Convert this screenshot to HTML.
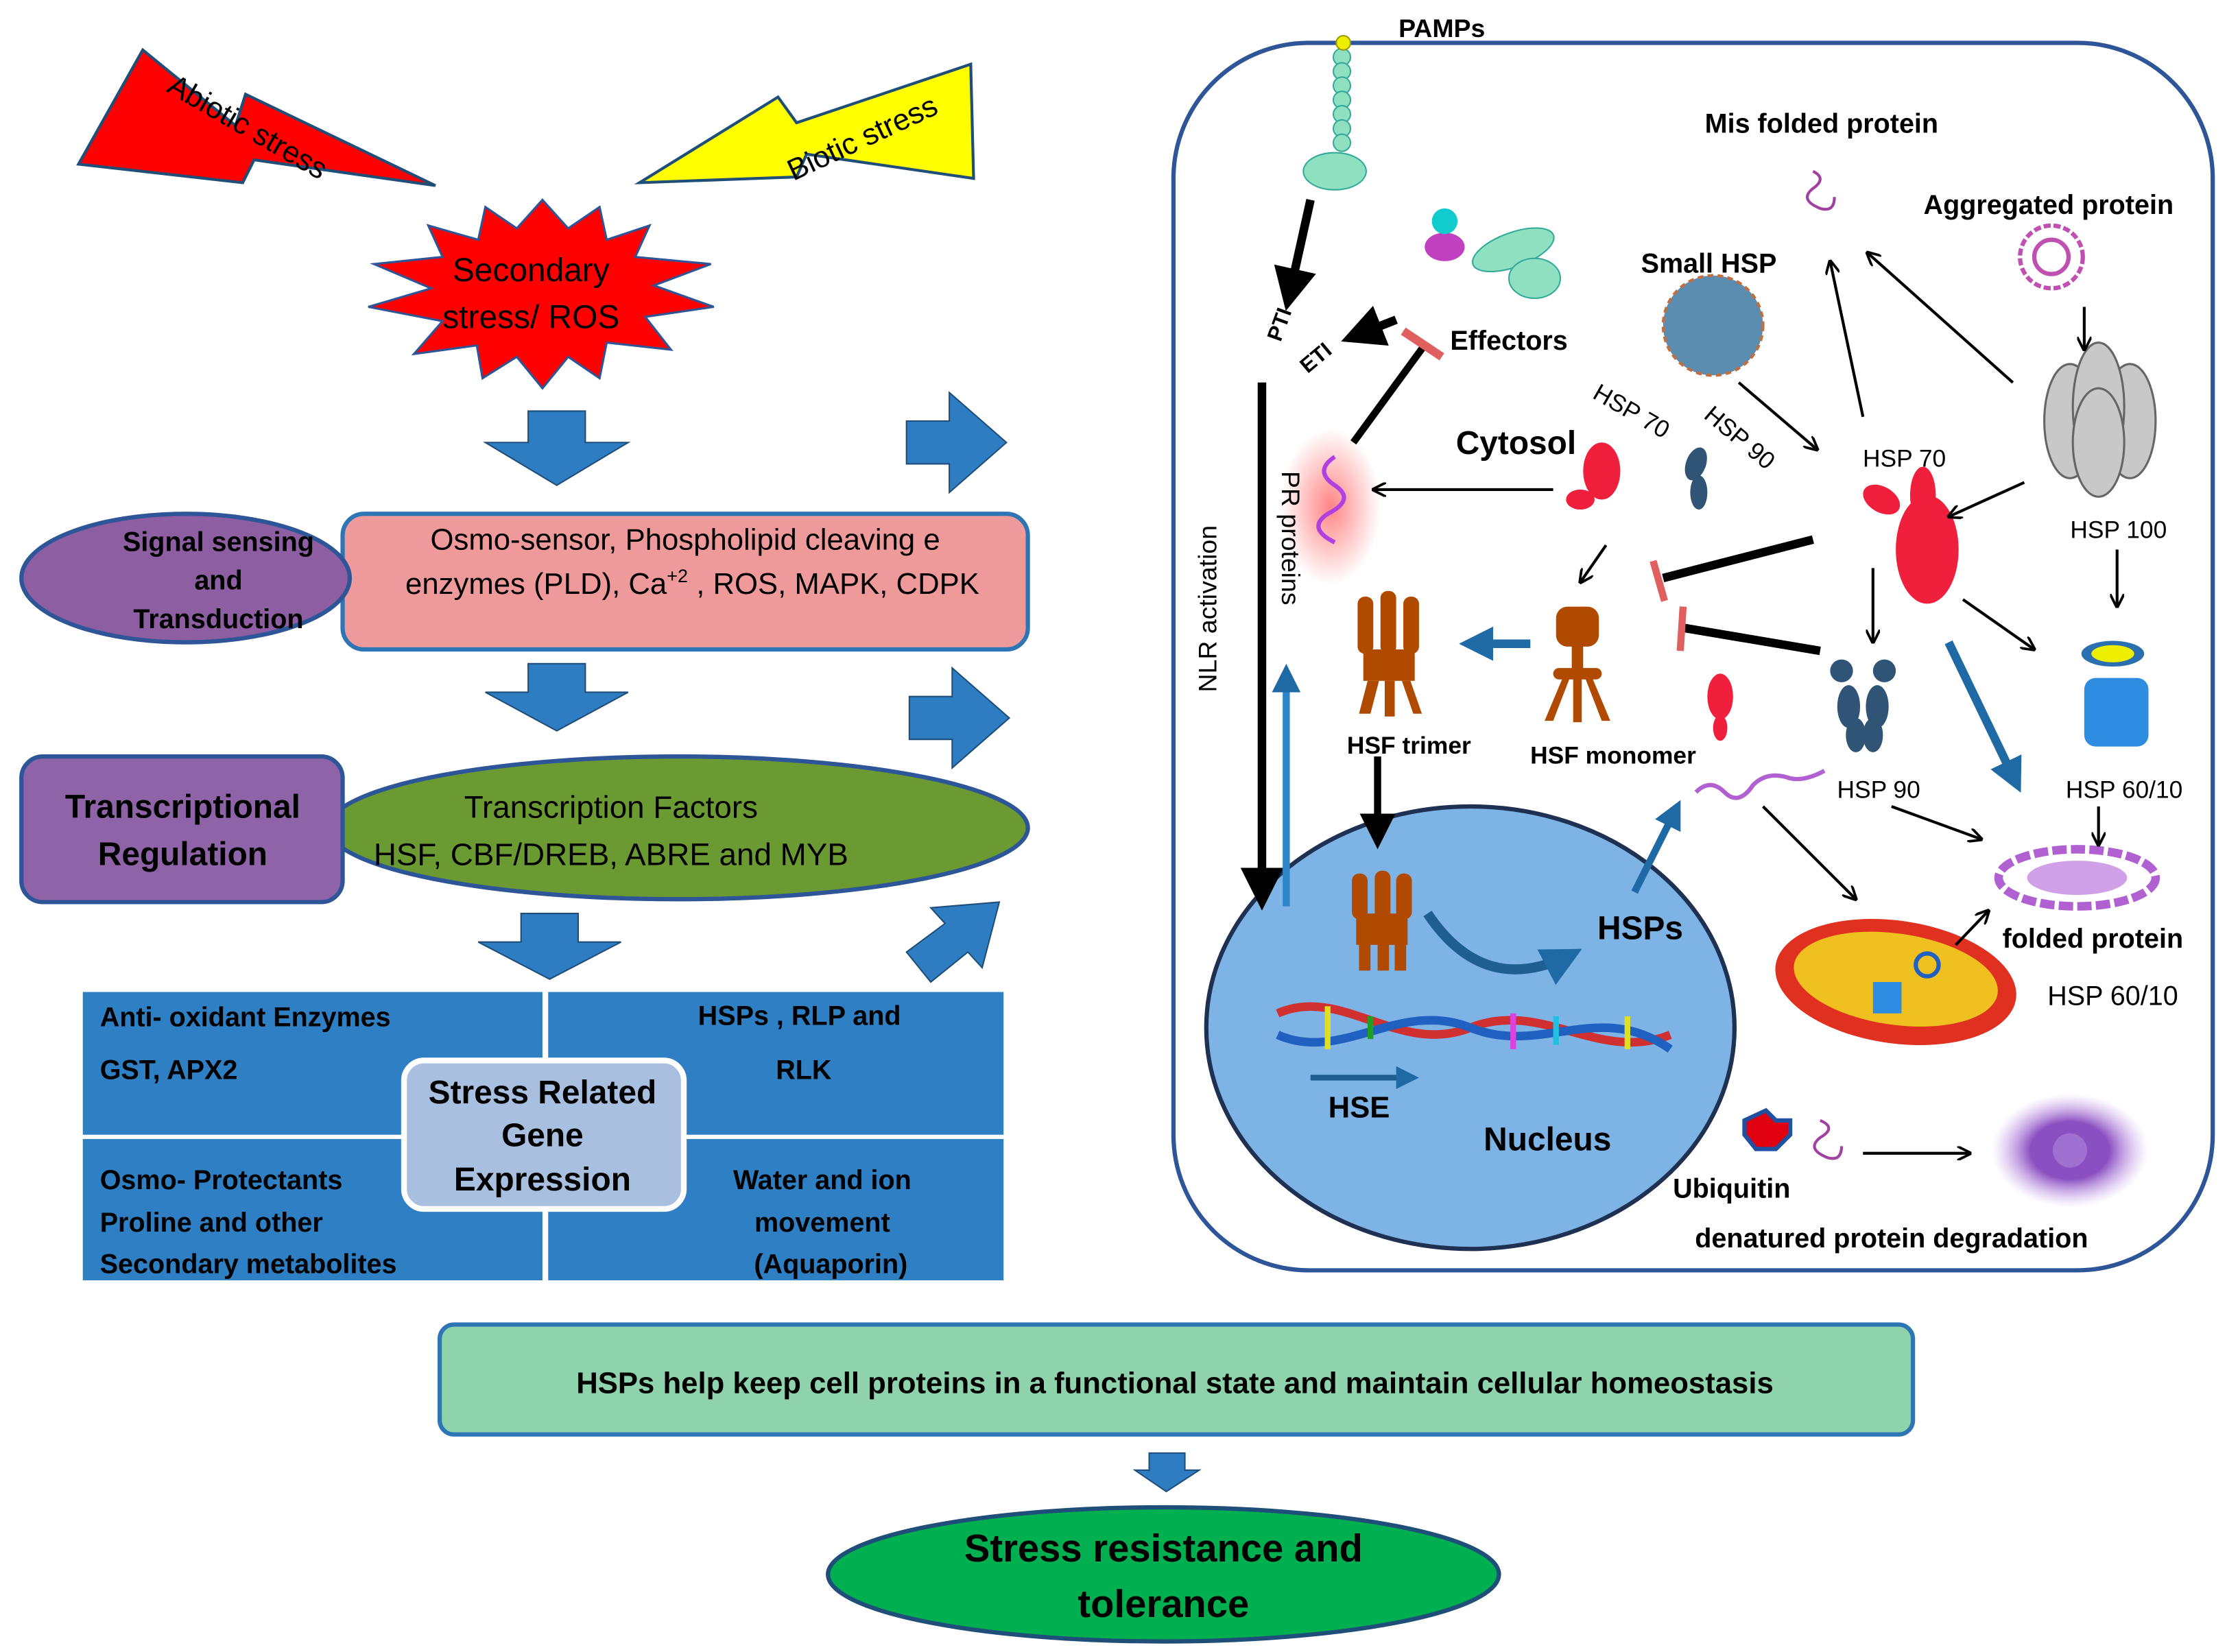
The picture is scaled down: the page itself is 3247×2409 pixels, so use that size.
<!DOCTYPE html>
<html><head><meta charset="utf-8"><style>
html,body{margin:0;padding:0;background:#fff}
svg{display:block}
text{font-family:"Liberation Sans",sans-serif}
.b{font-weight:bold}
</style></head><body>
<svg width="3247" height="2409" viewBox="0 0 1560 1157.4" preserveAspectRatio="none" xmlns="http://www.w3.org/2000/svg">
<defs>
<marker id="a" markerWidth="10" markerHeight="10" refX="9" refY="5" orient="auto" markerUnits="userSpaceOnUse"><path d="M0,0 L10,5 L0,10" fill="none" stroke="#000" stroke-width="1.8"/></marker>
<marker id="af" markerWidth="5" markerHeight="5" refX="4" refY="2.5" orient="auto"><path d="M0,0 L5,2.5 L0,5 Z" fill="#000"/></marker>
<marker id="ab" markerWidth="4" markerHeight="4" refX="3" refY="2" orient="auto"><path d="M0,0 L4,2 L0,4 Z" fill="#1f6aa5"/></marker>
<radialGradient id="pr"><stop offset="0" stop-color="#f66" stop-opacity=".8"/><stop offset="1" stop-color="#f66" stop-opacity="0"/></radialGradient>
<radialGradient id="pu"><stop offset="0.5" stop-color="#8a4fc0"/><stop offset="1" stop-color="#c9a0ee" stop-opacity="0"/></radialGradient>
</defs>

<!-- Left side -->
<polygon points="55,115 100,35 165,88 172,66 305,130 178,112 170,128" fill="#f00" stroke="#1f4e79" stroke-width="2"/>
<text x="170" y="95" font-size="21" transform="rotate(30 170 95)" text-anchor="middle">Abiotic stress</text>
<polygon points="448,128 545,68 558,86 680,45 682,125 565,108 558,124" fill="#ff0" stroke="#1f4e79" stroke-width="2"/>
<text x="607" y="103" font-size="21" transform="rotate(-25 607 103)" text-anchor="middle">Biotic stress</text>

<polygon points="380,140 398,160 420,145 425,168 455,158 445,180 498,185 458,200 500,215 452,222 470,245 425,240 420,265 398,250 380,272 362,250 338,265 334,242 290,248 310,225 258,215 302,202 262,185 310,180 300,158 335,168 340,145 362,160" fill="#f00" stroke="#2e5597" stroke-width="1.5"/>
<text x="372" y="197" font-size="23" text-anchor="middle">Secondary</text>
<text x="372" y="230" font-size="23" text-anchor="middle">stress/ ROS</text>

<g fill="#2e7dc2" stroke="#1f4e79" stroke-width="1">
<polygon points="370,288 410,288 410,310 440,310 390,340 340,310 370,310"/>
<polygon points="370,465 410,465 410,485 440,485 390,512 340,485 370,485"/>
<polygon points="365,640 405,640 405,660 435,660 385,686 335,660 365,660"/>
<polygon points="635,295 665,295 665,275 705,310 665,345 665,325 635,325"/>
<polygon points="637,488 667,488 667,468 707,503 667,538 667,518 637,518"/>
<polygon points="635,667 662,647 652,636 700,632 688,678 678,667 652,688"/>
<polygon points="805,1018 830,1018 830,1030 840,1030 817,1045 795,1030 805,1030"/>
</g>

<rect x="240" y="360" width="480" height="95" rx="15" fill="#ef9a9a" stroke="#2e75b6" stroke-width="3"/>
<ellipse cx="130" cy="405" rx="115" ry="45" fill="#8e5ea2" stroke="#2e5597" stroke-width="3"/>
<text x="153" y="386" font-size="19" class="b" text-anchor="middle">Signal sensing</text>
<text x="153" y="413" font-size="19" class="b" text-anchor="middle">and</text>
<text x="153" y="440" font-size="19" class="b" text-anchor="middle">Transduction</text>
<text x="480" y="385" font-size="21" text-anchor="middle">Osmo-sensor, Phospholipid cleaving e</text>
<text x="485" y="416" font-size="21" text-anchor="middle">enzymes (PLD), Ca<tspan font-size="13" dy="-8">+2</tspan><tspan dy="8"> , ROS, MAPK, CDPK</tspan></text>

<ellipse cx="475" cy="580" rx="245" ry="50" fill="#6b9a33" stroke="#2e5597" stroke-width="3"/>
<rect x="15" y="530" width="225" height="102" rx="15" fill="#8e63a8" stroke="#2e5597" stroke-width="3"/>
<text x="128" y="573" font-size="23" class="b" text-anchor="middle">Transcriptional</text>
<text x="128" y="606" font-size="23" class="b" text-anchor="middle">Regulation</text>
<text x="428" y="573" font-size="22" text-anchor="middle">Transcription Factors</text>
<text x="428" y="606" font-size="22" text-anchor="middle">HSF, CBF/DREB, ABRE and MYB</text>

<g fill="#2e7fc4">
<rect x="58" y="695" width="322" height="100"/>
<rect x="384" y="695" width="319" height="100"/>
<rect x="58" y="798" width="322" height="99"/>
<rect x="384" y="798" width="319" height="99"/>
</g>
<g font-size="19" class="b" fill="#000">
<text x="70" y="719">Anti- oxidant  Enzymes</text>
<text x="70" y="756">GST, APX2</text>
<text x="560" y="718" text-anchor="middle">HSPs , RLP and</text>
<text x="563" y="756" text-anchor="middle">RLK</text>
<text x="70" y="833">Osmo- Protectants</text>
<text x="70" y="863">Proline  and other</text>
<text x="70" y="892">Secondary metabolites</text>
<text x="576" y="833" text-anchor="middle">Water and ion</text>
<text x="576" y="863" text-anchor="middle">movement</text>
<text x="582" y="892" text-anchor="middle">(Aquaporin)</text>
</g>
<rect x="283" y="743" width="196" height="104" rx="14" fill="#a9bfe0" stroke="#fff" stroke-width="4"/>
<g font-size="23" class="b" text-anchor="middle">
<text x="380" y="773">Stress Related</text>
<text x="380" y="803">Gene</text>
<text x="380" y="834">Expression</text>
</g>

<rect x="308" y="928" width="1032" height="77" rx="10" fill="#8fd3ad" stroke="#2e75b6" stroke-width="3"/>
<text x="823" y="976" font-size="21" class="b" text-anchor="middle">HSPs help keep cell proteins in a functional state and maintain cellular homeostasis</text>
<ellipse cx="815" cy="1103" rx="235" ry="47" fill="#00b050" stroke="#1f4e79" stroke-width="3"/>
<text x="815" y="1094" font-size="27" class="b" text-anchor="middle">Stress resistance and</text>
<text x="815" y="1133" font-size="27" class="b" text-anchor="middle">tolerance</text>

<!-- Right cell -->
<rect x="822" y="30" width="728" height="860" rx="95" fill="#fff" stroke="#2e5597" stroke-width="3"/>
<ellipse cx="1030" cy="720" rx="185" ry="155" fill="#7eb3e6" stroke="#1f3152" stroke-width="3"/>

<!-- PAMP receptor -->
<g fill="#8ee0c0" stroke="#3a9" stroke-width="1">
<circle cx="940" cy="40" r="6"/><circle cx="940" cy="50" r="6"/><circle cx="940" cy="60" r="6"/><circle cx="940" cy="70" r="6"/><circle cx="940" cy="80" r="6"/><circle cx="940" cy="90" r="6"/><circle cx="940" cy="100" r="6"/>
<ellipse cx="935" cy="120" rx="22" ry="13"/>
</g>
<circle cx="941" cy="30" r="5" fill="#ee0" stroke="#990"/>
<text x="1010" y="26" font-size="18" class="b" text-anchor="middle">PAMPs</text>

<!-- Effectors shape -->
<g stroke="#3a9" fill="#8ee0c0"><ellipse cx="1060" cy="175" rx="30" ry="12" transform="rotate(-20 1060 175)"/><ellipse cx="1075" cy="195" rx="18" ry="14"/></g>
<ellipse cx="1012" cy="173" rx="14" ry="10" fill="#c040c0"/>
<circle cx="1012" cy="155" r="9" fill="#1cc"/>
<text x="1057" y="245" font-size="19" class="b" text-anchor="middle">Effectors</text>

<line x1="918" y1="140" x2="902" y2="212" stroke="#000" stroke-width="6" marker-end="url(#af)"/>
<line x1="978" y1="224" x2="945" y2="237" stroke="#000" stroke-width="6" marker-end="url(#af)"/>
<text x="897" y="240" font-size="15" class="b" transform="rotate(-70 897 240)">PTI</text>
<text x="916" y="262" font-size="15" class="b" transform="rotate(-40 916 262)">ETI</text>
<line x1="948" y1="310" x2="997" y2="243" stroke="#000" stroke-width="5"/>
<line x1="983" y1="232" x2="1010" y2="250" stroke="#e06060" stroke-width="6"/>

<ellipse cx="932" cy="355" rx="35" ry="55" fill="url(#pr)"/>
<path d="M935,320 q-15,10 0,20 q15,10 -5,20 q-15,10 5,20" fill="none" stroke="#b040e0" stroke-width="3"/>
<text x="898" y="330" font-size="18" fill="#000" transform="rotate(90 898 330)">PR proteins</text>
<text x="852" y="485" font-size="18" transform="rotate(-90 852 485)">NLR activation</text>

<line x1="884" y1="268" x2="884" y2="632" stroke="#000" stroke-width="6" marker-end="url(#af)"/>
<line x1="901" y1="635" x2="901" y2="470" stroke="#2e86c8" stroke-width="5" marker-end="url(#ab)"/>

<text x="1062" y="318" font-size="23" class="b" text-anchor="middle">Cytosol</text>
<line x1="1088" y1="343" x2="962" y2="343" stroke="#000" stroke-width="2" marker-end="url(#a)"/>
<!-- small HSP70 -->
<ellipse cx="1122" cy="330" rx="13" ry="20" fill="#f0203c"/>
<ellipse cx="1107" cy="350" rx="10" ry="7" fill="#f0203c"/>
<text x="1140" y="293" font-size="17" transform="rotate(30 1140 293)" text-anchor="middle">HSP 70</text>
<ellipse cx="1188" cy="325" rx="7" ry="12" fill="#2f5475" transform="rotate(20 1188 325)"/>
<ellipse cx="1190" cy="345" rx="6" ry="12" fill="#2f5475"/>
<text x="1215" y="311" font-size="17" transform="rotate(40 1215 311)" text-anchor="middle">HSP 90</text>

<!-- Small HSP sphere -->
<circle cx="1200" cy="228" r="35" fill="#5a8db0" stroke="#c07040" stroke-width="2" stroke-dasharray="4 3"/>
<text x="1197" y="191" font-size="19" class="b" text-anchor="middle">Small HSP</text>
<text x="1276" y="93" font-size="19" class="b" text-anchor="middle">Mis folded protein</text>
<path d="M1270,120 q10,5 0,12 q-10,8 5,14 q10,3 10,-8" fill="none" stroke="#a040a0" stroke-width="2"/>
<text x="1435" y="150" font-size="19" class="b" text-anchor="middle">Aggregated protein</text>
<circle cx="1437" cy="180" r="22" fill="none" stroke="#c050b0" stroke-width="3" stroke-dasharray="5 2"/>
<circle cx="1437" cy="180" r="12" fill="none" stroke="#c050b0" stroke-width="3"/>

<!-- HSP100 -->
<g fill="#c8c8c8" stroke="#666" stroke-width="1.5">
<ellipse cx="1450" cy="295" rx="18" ry="40"/><ellipse cx="1492" cy="295" rx="18" ry="40"/><ellipse cx="1470" cy="285" rx="18" ry="45"/><ellipse cx="1470" cy="310" rx="18" ry="38"/>
</g>
<text x="1484" y="377" font-size="17" text-anchor="middle">HSP 100</text>

<!-- big HSP70 -->
<text x="1334" y="327" font-size="17" text-anchor="middle">HSP 70</text>
<ellipse cx="1350" cy="385" rx="22" ry="38" fill="#f0203c"/>
<ellipse cx="1347" cy="347" rx="9" ry="20" fill="#f0203c"/>
<ellipse cx="1318" cy="350" rx="14" ry="9" fill="#f0203c" transform="rotate(30 1318 350)"/>

<!-- HSP90 large -->
<g fill="#2f5475">
<circle cx="1290" cy="470" r="8"/><circle cx="1320" cy="470" r="8"/>
<ellipse cx="1295" cy="495" rx="8" ry="15"/><ellipse cx="1315" cy="495" rx="8" ry="15"/>
<ellipse cx="1300" cy="515" rx="7" ry="12"/><ellipse cx="1312" cy="515" rx="7" ry="12"/>
</g>
<text x="1316" y="559" font-size="17" text-anchor="middle">HSP 90</text>
<!-- HSP 60/10 -->
<ellipse cx="1480" cy="458" rx="22" ry="9" fill="#2a6fb0"/>
<ellipse cx="1480" cy="458" rx="15" ry="6" fill="#ee0"/>
<rect x="1460" y="475" width="45" height="48" rx="8" fill="#2e8de0"/>
<text x="1488" y="559" font-size="17" text-anchor="middle">HSP 60/10</text>

<!-- HSF monomer red -->
<ellipse cx="1205" cy="488" rx="9" ry="16" fill="#f0203c"/>
<ellipse cx="1205" cy="510" rx="5" ry="9" fill="#f0203c"/>

<!-- HSF shapes -->
<g fill="#b04a00">
<rect x="1090" y="425" width="30" height="28" rx="8"/><rect x="1101" y="450" width="8" height="20"/><rect x="1088" y="468" width="34" height="8" rx="4"/>
<polygon points="1095,474 1082,505 1088,505 1100,474"/><polygon points="1115,474 1128,505 1122,505 1110,474"/><rect x="1102" y="474" width="6" height="32"/>
<rect x="951" y="418" width="11" height="40" rx="5"/><rect x="967" y="414" width="11" height="44" rx="5"/><rect x="983" y="418" width="11" height="40" rx="5"/>
<rect x="955" y="455" width="36" height="22"/>
<polygon points="958,477 952,500 960,500 966,477"/><rect x="970" y="477" width="7" height="25"/><polygon points="982,477 990,500 996,500 988,477"/>
<rect x="947" y="612" width="11" height="32" rx="5"/><rect x="963" y="610" width="11" height="34" rx="5"/><rect x="978" y="612" width="11" height="32" rx="5"/>
<rect x="950" y="640" width="36" height="22"/>
<rect x="952" y="660" width="8" height="20"/><rect x="965" y="660" width="8" height="20"/><rect x="977" y="660" width="8" height="20"/>
</g>
<text x="987" y="528" font-size="17" class="b" text-anchor="middle">HSF trimer</text>
<text x="1130" y="535" font-size="17" class="b" text-anchor="middle">HSF monomer</text>
<line x1="1072" y1="451" x2="1028" y2="451" stroke="#1f6aa5" stroke-width="6" marker-end="url(#ab)"/>
<line x1="965" y1="530" x2="965" y2="590" stroke="#000" stroke-width="5" marker-end="url(#af)"/>
<path d="M1000,640 Q1040,700 1102,668" fill="none" stroke="#1f5f8f" stroke-width="7" marker-end="url(#ab)"/>
<line x1="1145" y1="625" x2="1175" y2="565" stroke="#1f6aa5" stroke-width="5" marker-end="url(#ab)"/>
<text x="1149" y="658" font-size="23" class="b" text-anchor="middle">HSPs</text>
<!-- DNA -->
<path d="M895,710 C940,690 980,740 1030,720 C1080,700 1120,745 1170,725" fill="none" stroke="#d03030" stroke-width="6"/>
<path d="M895,725 C940,745 980,700 1030,720 C1080,740 1120,700 1170,735" fill="none" stroke="#2060c0" stroke-width="6"/>
<g stroke-width="4"><line x1="930" y1="705" x2="930" y2="735" stroke="#e0e020"/><line x1="960" y1="712" x2="960" y2="728" stroke="#20a020"/><line x1="1060" y1="710" x2="1060" y2="735" stroke="#e040e0"/><line x1="1090" y1="712" x2="1090" y2="732" stroke="#20c0e0"/><line x1="1140" y1="712" x2="1140" y2="735" stroke="#e0e020"/></g>
<line x1="918" y1="755" x2="990" y2="755" stroke="#1f5f8f" stroke-width="4" marker-end="url(#ab)"/>
<text x="952" y="783" font-size="21" class="b" text-anchor="middle">HSE</text>
<text x="1084" y="806" font-size="23" class="b" text-anchor="middle">Nucleus</text>

<!-- unfolded protein -->
<path d="M1188,555 q10,-10 20,0 q10,10 20,-5 q10,-10 25,-5 q10,3 25,-5" fill="none" stroke="#b060d0" stroke-width="3"/>
<!-- folded protein -->
<ellipse cx="1455" cy="615" rx="55" ry="20" fill="none" stroke="#b060d0" stroke-width="6" stroke-dasharray="10 3"/>
<ellipse cx="1455" cy="615" rx="35" ry="12" fill="#d0a0e8"/>
<text x="1466" y="664" font-size="19" class="b" text-anchor="middle">folded protein</text>
<text x="1480" y="704" font-size="19" text-anchor="middle">HSP 60/10</text>
<!-- mitochondria -->
<ellipse cx="1328" cy="688" rx="85" ry="43" fill="#e03020" transform="rotate(8 1328 688)"/>
<ellipse cx="1328" cy="686" rx="72" ry="32" fill="#f0c020" transform="rotate(8 1328 686)"/>
<circle cx="1350" cy="676" r="8" fill="none" stroke="#2060c0" stroke-width="3"/>
<rect x="1312" y="688" width="20" height="22" fill="#2e8de0"/>

<!-- ubiquitin -->
<polygon points="1237,778 1244,785 1254,785 1254,795 1244,805 1230,805 1222,795 1222,785" fill="#e00010" stroke="#2050a0" stroke-width="3"/>
<path d="M1275,785 q12,5 0,12 q-10,8 5,14 q10,3 10,-8" fill="none" stroke="#a040a0" stroke-width="2"/>
<text x="1213" y="839" font-size="19" class="b" text-anchor="middle">Ubiquitin</text>
<text x="1325" y="874" font-size="19" class="b" text-anchor="middle">denatured protein degradation</text>
<ellipse cx="1450" cy="806" rx="55" ry="40" fill="url(#pu)"/>
<circle cx="1450" cy="806" r="12" fill="#a070d0"/>

<!-- thin arrows -->
<g stroke="#000" stroke-width="2" fill="none" marker-end="url(#a)">
<line x1="1305" y1="292" x2="1282" y2="183"/>
<line x1="1410" y1="268" x2="1308" y2="177"/>
<line x1="1218" y1="268" x2="1273" y2="315"/>
<line x1="1418" y1="338" x2="1365" y2="362"/>
<line x1="1460" y1="215" x2="1460" y2="245"/>
<line x1="1483" y1="385" x2="1483" y2="425"/>
<line x1="1312" y1="398" x2="1312" y2="450"/>
<line x1="1375" y1="420" x2="1425" y2="455"/>
<line x1="1125" y1="382" x2="1107" y2="408"/>
<line x1="1325" y1="565" x2="1388" y2="588"/>
<line x1="1470" y1="565" x2="1470" y2="592"/>
<line x1="1235" y1="565" x2="1300" y2="630"/>
<line x1="1370" y1="662" x2="1393" y2="638"/>
<line x1="1305" y1="808" x2="1380" y2="808"/>
</g>
<line x1="1365" y1="450" x2="1413" y2="550" stroke="#1f6aa5" stroke-width="6" marker-end="url(#ab)"/>
<!-- T bars -->
<line x1="1270" y1="378" x2="1165" y2="405" stroke="#000" stroke-width="6"/>
<line x1="1158" y1="393" x2="1166" y2="421" stroke="#e06060" stroke-width="5"/>
<line x1="1275" y1="456" x2="1180" y2="440" stroke="#000" stroke-width="6"/>
<line x1="1179" y1="425" x2="1177" y2="456" stroke="#e06060" stroke-width="5"/>
</svg>
</body></html>
